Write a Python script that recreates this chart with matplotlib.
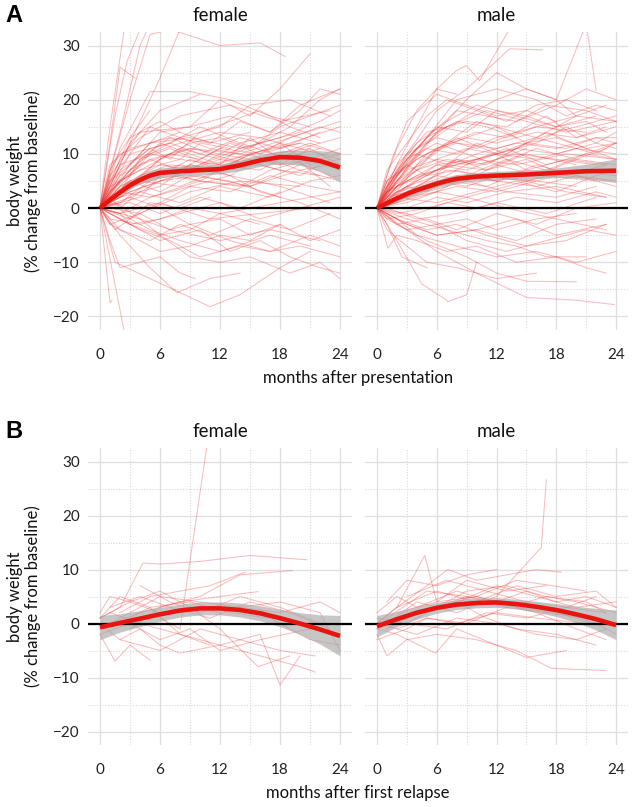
import matplotlib
matplotlib.use("Agg")
import matplotlib.pyplot as plt
import numpy as np

plt.rcParams['font.family'] = ['Lato', 'DejaVu Sans']

# ---------------- data ----------------
facets = ["female", "male"]
x_ticks = [0, 6, 12, 18, 24]
y_ticks = [-20, -10, 0, 10, 20, 30]
x_titles = ["months after presentation", "months after first relapse"]
panel_letters = ["A", "B"]

# Panel A, female: individual trajectories (months, % change)
a_female_t = [
    [0, 1, 2.5], [0, 1.5, 2.7, 4], [0, 1, 2, 3.5], [0, 2, 4, 5],
    [0, 3, 5, 7, 12, 16, 18.5], [0, 3, 6, 8, 12], [0, 2, 5, 9, 13, 17, 21],
    [0, 3, 6, 9, 12, 15, 18, 21], [0, 2, 5, 8, 11, 14, 17, 20, 22, 24],
    [0, 3, 6, 9, 12, 15, 18, 21, 24], [0, 1, 4, 7, 10, 13, 16, 19, 22, 24],
    [0, 2, 5, 8, 12, 16, 20, 24], [0, 3, 6, 9, 12, 15, 18, 22],
    [0, 1.5, 4, 7, 11, 14, 18, 21, 24], [0, 2, 6, 10, 14, 18, 22],
    [0, 3, 5, 8, 12, 15, 19, 23], [0, 2, 4, 9, 13, 17, 20, 24],
    [0, 1, 3, 6, 10, 15, 20, 24], [0, 2, 5, 9, 13, 17, 21, 24],
    [0, 3, 6, 10, 14, 18], [0, 1, 4, 8, 12, 16, 20, 24],
    [0, 2, 5, 8, 11, 15, 19, 23], [0, 1, 3, 6, 9, 12, 15, 18],
    [0, 2, 4, 7, 10, 14, 17, 21, 24], [0, 1, 2, 4, 6, 8, 9.5],
    [0, 1.5, 5, 11, 14, 18, 21], [0, 2, 5, 7.7, 11, 14], [0, 1, 1.2], [0, 2.5],
    [0, 1, 3, 6, 9, 12, 15, 19, 22, 24], [0, 3, 6, 9, 12, 15, 18, 21, 24],
    [0, 2, 4, 6, 9, 12, 14, 18, 22], [0, 1, 3, 5, 8, 11, 14, 17, 20, 23],
    [0, 2, 6, 9, 13, 17, 21, 24], [0, 1, 4, 8, 12, 16, 20, 24],
    [0, 3, 7, 10, 14, 19, 23], [0, 2, 5, 7, 10, 13, 16, 19, 22],
    [0, 1, 3, 6, 9, 13, 18], [0, 2, 4, 8, 12, 17, 21, 24],
    [0, 3, 6, 9, 13, 16, 20, 24], [0, 1.5, 4, 6, 9, 12, 16],
    [0, 2, 5, 8, 12, 16, 19, 22, 24], [0, 1, 2, 5, 9, 14, 20],
    [0, 2, 4, 7, 11, 15, 19, 23], [0, 1, 3, 7, 10, 14, 17, 21, 24],
    [0, 3, 6, 10, 13, 16, 19, 22, 24], [0, 2, 5, 9, 12, 15],
    [0, 1, 4, 8, 13, 18, 23], [0, 2, 6, 10, 15, 19, 24], [0, 1, 3, 6, 10],
    [0, 1.5, 3, 5, 8, 11], [0, 2, 4, 7, 9, 13, 17, 20, 24],
    [0, 1, 3, 5, 8, 10, 13], [0, 2, 4, 6, 9, 12, 15, 18, 21, 24],
    [0, 1, 2, 4, 7, 11, 15, 20], [0, 2, 5, 9, 14, 19, 24],
    [0, 1, 3, 6, 9, 12, 16, 20, 23], [0, 2, 4, 8, 12, 15, 18, 21],
    [0, 1, 3, 5, 7, 10, 14, 18, 22], [0, 3, 6, 9, 12, 15, 18, 21, 24],
    [0, 1.5, 3, 6, 8], [0, 2, 6, 11, 16, 21], [0, 1, 4, 7, 12, 17, 22],
    [0, 2, 5, 10, 15, 20, 24], [0, 1, 3, 7, 11, 15],
    [0, 2, 4, 6, 10, 14, 18, 22, 24], [0, 1, 2, 3, 5], [0, 3, 8, 13, 18, 23],
    [0, 1, 3, 5, 8, 12, 17, 21], [0, 2, 5, 8, 12, 16, 20, 24],
    [0, 1, 4, 9, 14, 20], [0, 2, 3, 6, 9, 12, 18, 24],
]
a_female_v = [
    [0, 15, 34], [0, 17, 27, 33], [0, 12, 26, 24], [0, 14, 30, 34],
    [0, 20, 32, 33, 30, 30.5, 28], [0, 12, 24, 33, 34], [0, 11, 21.5, 21.5, 20, 17, 15],
    [0, 8, 14, 15, 20, 17, 22, 28.5], [0, 6, 12, 14, 12, 16, 14, 18, 22, 21],
    [0, 4, 9, 12, 13, 11, 15, 17, 19], [0, 3, 8, 10, 9, 12, 10, 13, 15, 14],
    [0, 5, 9, 7, 11, 10, 12, 10], [0, 7, 12, 10, 8, 13, 9, 11],
    [0, 2, 6, 8, 7, 9, 12, 8, 9], [0, 4, 7, 5, 9, 7, 6],
    [0, 6, 10, 13, 15, 19, 20, 17], [0, 9, 14, 15, 17, 14, 19, 22],
    [0, 1, 3, 5, 6, 4, 7, 5], [0, -1, 2, 4, 3, 6, 4, 3],
    [0, 1, -1, 2, 0, 3], [0, -2, -3, -1, 1, -2, 0, 2],
    [0, -4, -6, -3, -5, -2, -4, -1], [0, -3, -5, -8, -7, -5, -6, -3],
    [0, -2, -4, -6, -9, -7, -8, -5, -7], [0, -6, -11, -10, -9, -12, -13],
    [0, -10, -13, -18.2, -16, -11, -8], [0, -5, -11, -15.6, -13, -12], [0, -17.5, -17], [0, -23.5],
    [0, -1, -3, -5, -9, -10, -9, -12, -10, -13], [0, 2, 0, -3, -2, -5, -3, -6, -4],
    [0, 3, 6, 9, 11, 10, 12, 14, 12], [0, 5, 10, 15, 13, 11, 10, 9, 7, 8],
    [0, 2, 4, 8, 6, 10, 11, 8], [0, 4, 7, 9, 8, 7, 11, 13],
    [0, 10, 12, 15, 12, 9, 6], [0, 7, 11, 9, 14, 16, 18, 15, 13],
    [0, 2, 5, 3, 6, 5, 2], [0, 0, 3, 1, 4, 2, 5, 6],
    [0, -2, 1, 4, 6, 3, 1, -2], [0, 1, -2, -5, -4, -1, -3],
    [0, 5, 8, 11, 9, 12, 15, 20, 22], [0, 7, 10, 12, 13, 11, 14],
    [0, 3, 9, 13, 10, 8, 10, 4], [0, 2, 4, 6, 5, 4, 7, 9, 11],
    [0, -3, -6, -4, -8, -6, -9, -11, -12], [0, 1, 5, 8, 7, 9],
    [0, 8, 13, 17, 19, 16, 18], [0, 1, 5, 7, 10, 12, 15], [0, 4, 12, 18, 21],
    [0, -4, -2, 1, 0, 2], [0, -1, -2, -4, -3, -6, -8, -7, -9],
    [0, 3, 7, 10, 9, 12, 11], [0, 4, 6, 8, 7, 9, 8, 10, 12, 10],
    [0, 3, 5, 9, 11, 8, 10, 12], [0, 6, 9, 11, 10, 13, 16],
    [0, 1, 4, 6, 9, 7, 8, 6, 9], [0, 2, 5, 4, 7, 10, 8, 11],
    [0, 5, 8, 11, 12, 10, 13, 11, 14], [0, 3, 5, 7, 10, 9, 8, 9, 7],
    [0, 9, 13, 16, 14], [0, -1, 1, -2, -1, 0], [0, -3, -1, -4, -6, -4, -6],
    [0, 3, 2, 5, 4, 8, 10], [0, 6, 11, 13, 12, 14],
    [0, 1, 2, 6, 8, 11, 13, 16, 18], [0, 5, 9, 13, 18], [0, 5, 8, 6, 4, 1],
    [0, 2, -2, -4, -6, -8, -5, -7], [0, 8, 10, 12, 14, 13, 11, 9],
    [0, 0, -1, 3, 5, 4], [0, -1, -3, -2, 0, -1, 1, 3],
]

# Panel A, male
a_male_t = [
    [0, 2, 4, 6, 8, 9, 10.3, 13.3], [0, 3, 6, 9, 13.3, 16.6],
    [0, 2, 5, 9, 12, 15, 18, 21, 22], [0, 3, 6, 9, 12, 15, 18, 20],
    [0, 2, 5, 8, 11, 14, 18, 21, 24], [0, 1, 3, 6, 9, 12, 15, 18, 21, 23],
    [0, 2, 4, 7, 10, 14, 17, 20, 24], [0, 1, 3, 5, 8, 12, 16, 20, 23],
    [0, 2, 5, 8, 12, 16, 19, 22, 24], [0, 3, 6, 10, 13, 17, 21, 24],
    [0, 1, 4, 7, 11, 15, 19, 23], [0, 2, 5, 9, 13, 17, 21, 24],
    [0, 3, 7, 11, 15, 19, 23], [0, 1, 3, 6, 9, 12, 16, 20, 24],
    [0, 2, 4, 8, 12, 16, 20], [0, 3, 6, 9, 13, 18, 22],
    [0, 1, 4, 7, 10, 14, 18, 22, 24], [0, 2, 5, 8, 12, 16, 20, 24],
    [0, 1, 3, 6, 10, 14, 18, 22], [0, 1.1, 2, 4, 7, 10, 14, 18, 21, 23],
    [0, 2, 4.5, 7, 7.1, 9, 10], [0, 3, 6, 10, 15, 20, 23.8],
    [0, 2, 5, 9, 12, 15, 20], [0, 3, 7, 11, 14, 17, 21],
    [0, 1, 3, 5, 8, 12, 16], [0, 1, 2.5, 5],
    [0, 2, 4, 7, 10, 13, 17, 21, 24], [0, 1, 3, 5, 7, 10, 13, 16, 19, 22],
    [0, 2, 4, 6, 9, 12, 15, 18, 22, 24], [0, 1, 3, 6, 10, 14, 18, 22, 24],
    [0, 2, 5, 9, 13, 17, 21, 24], [0, 1, 4, 8, 12, 16, 20, 24],
    [0, 3, 6, 9, 12, 16, 20, 24], [0, 1, 3, 6, 9, 12, 15, 19, 23],
    [0, 2, 6, 10, 14, 18, 22, 24], [0, 1, 4, 8, 12, 17, 22],
    [0, 2, 5, 9, 13, 18, 23], [0, 3, 6, 9, 12, 16, 20, 24],
    [0, 1, 2, 4, 6, 8], [0, 1.5, 3, 6, 9, 12, 15, 18],
    [0, 2, 5, 8, 11, 15, 19, 22, 24], [0, 1, 3, 6, 9, 13, 17, 21, 24],
    [0, 2, 4, 7, 11, 15, 19, 23], [0, 1, 3, 5, 8, 11, 15, 20],
    [0, 2, 4, 7, 10, 14, 18, 22, 24], [0, 3, 6, 10, 14, 18, 23],
    [0, 1, 3, 6, 9, 12, 16, 20, 23], [0, 2, 5, 8, 12, 16, 19, 22, 24],
    [0, 1, 3, 6, 9, 12, 15, 18, 21, 24], [0, 2, 4, 6, 8, 11, 14],
    [0, 1, 2, 4, 7, 10, 14, 18, 22], [0, 2, 5, 8, 12, 16, 20, 24],
    [0, 1, 3, 5, 8, 12, 16, 21], [0, 2, 4, 7, 11, 15, 19, 24],
    [0, 1, 3, 6, 10, 15, 20], [0, 3, 6, 9, 13, 17, 22],
    [0, 1, 2, 5, 8, 11, 15, 19, 23], [0, 2, 4, 8, 12, 16, 20, 24],
    [0, 1, 3, 6, 9, 12, 15], [0, 2, 6, 10, 14, 18, 22, 24],
    [0, 1, 4, 7, 10, 13, 16, 20, 24], [0, 1.5, 3, 5, 7],
    [0, 2, 5, 9, 13, 18, 23], [0, 1, 3, 6, 10, 14, 19, 24],
    [0, 3, 6, 9, 12, 16, 20], [0, 1, 2, 4, 6, 9, 12, 16, 20, 23],
    [0, 2, 4, 7, 10, 14, 18, 22], [0, 1, 3, 5, 8, 12],
]
a_male_v = [
    [0, 8, 15, 22, 25.4, 26.3, 23.5, 33], [0, 10, 18, 22, 29.4, 29.2],
    [0, 5, 12, 17, 20, 22, 20, 34, 21.7], [0, 7, 14, 20, 25, 22, 20, 17],
    [0, 6, 13, 18, 17, 16, 19, 22, 20], [0, 4, 9, 15, 14, 18, 17, 15, 16, 14],
    [0, 3, 8, 12, 16, 14, 17, 13, 15], [0, 2, 6, 10, 12, 11, 13, 17, 19],
    [0, 5, 9, 13, 10, 12, 15, 12, 11], [0, 4, 8, 9, 11, 8, 10, 12],
    [0, 1, 5, 8, 7, 9, 6, 8], [0, 2, 4, 6, 9, 7, 10, 9],
    [0, 3, 5, 4, 7, 6, 5], [0, 2, 3, 5, 4, 6, 5, 7, 6],
    [0, 1, 2, 4, 3, 5, 4], [0, 0, 2, 1, 3, 2, 4],
    [0, -2, -1, 1, 0, 2, 1, 3, 2], [0, -3, -2, -4, -1, -3, 0, 1],
    [0, -1, -3, -5, -4, -6, -3, -2], [0, -7.4, -5, -6, -8, -7, -10, -9, -11, -12],
    [0, -6, -14, -17, -17.3, -16, -10], [0, -4, -8, -12, -16.5, -17, -17.8],
    [0, -3, -6, -9, -12, -13.5, -13.6], [0, -2, -4, -6, -7, -9, -9],
    [0, -4, -7, -10, -11, -13, -12], [0, -3, -9, -11],
    [0, 6, 10, 8, 12, 10, 14, 11, 9], [0, 7, 12, 17, 20, 18, 16, 19, 20, 18],
    [0, 4, 7, 11, 13, 15, 12, 14, 16, 17], [0, 5, 10, 13, 11, 14, 12, 10, 12],
    [0, 8, 14, 16, 15, 19, 18, 16], [0, 3, 6, 8, 10, 9, 11, 10],
    [0, 1, 3, 6, 5, 8, 6, 4], [0, 3, 7, 9, 8, 10, 7, 9, 8],
    [0, 2, 1, 3, 5, 3, 6, 7], [0, 0, -2, -1, 1, -1, 2],
    [0, -1, 0, 2, 0, -2, -4], [0, 4, 6, 5, 8, 6, 9, 8],
    [0, 6, 11, 18, 22, 21], [0, 9, 16, 21, 19, 17, 18, 16],
    [0, 2, 5, 9, 8, 12, 11, 13, 13], [0, -2, -4, -3, -6, -8, -6, -4, -5],
    [0, 3, 4, 7, 6, 5, 3, 2], [0, 5, 8, 6, 9, 7, 10, 8],
    [0, 1, 4, 6, 9, 11, 10, 12, 14], [0, -3, -5, -4, -2, -5, -3],
    [0, 4, 9, 12, 10, 8, 11, 9, 11], [0, 7, 13, 20, 22, 20, 17, 19, 18],
    [0, 3, 6, 9, 11, 10, 12, 13, 11, 12], [0, 5, 10, 14, 16, 15, 13],
    [0, 2, 4, 7, 9, 8, 10, 9, 8], [0, 3, 6, 7, 5, 4, 6, 5],
    [0, 4, 8, 11, 10, 13, 15, 14], [0, 6, 11, 15, 18, 16, 14, 16],
    [0, 1, 2, 4, 6, 5, 7], [0, 2, 3, 2, 4, 6, 5],
    [0, -1, -2, -4, -3, -5, -7, -6, -3], [0, -2, -5, -7, -9, -8, -10, -8],
    [0, 3, 5, 8, 7, 9, 11], [0, 4, 7, 10, 12, 11, 13, 12],
    [0, 5, 9, 12, 14, 13, 15, 17, 16], [0, 4, 9, 13, 15],
    [0, 1, 3, 5, 3, 4, 2], [0, 2, 5, 7, 9, 8, 10, 9],
    [0, -1, -3, -2, -4, -2, -1], [0, 3, 6, 9, 11, 13, 12, 14, 13, 15],
    [0, 7, 12, 16, 19, 17, 15, 17], [0, 2, 4, 3, 6, 5],
]

# Panel B, female
b_female_t = [
    [0, 2, 4.3, 6, 10, 15, 20.7], [6, 8, 10.7], [3, 6, 10, 14, 19.2],
    [2, 5, 8, 11, 14.5], [1, 4, 8, 12, 15.8], [0, 1.5, 3, 5],
    [0, 2, 4, 6, 8, 12, 16, 18, 20], [1, 4, 8, 12, 16, 20, 21.5],
    [0, 3, 6, 9, 12, 15.8, 19], [2, 5, 9, 13, 17, 21, 24],
    [0, 3, 6, 10, 14, 18, 22, 24], [1, 4, 7, 11, 15, 19, 23],
    [0, 2, 5, 8, 11], [4, 7, 10, 14, 18, 22], [0, 3, 6, 9, 12, 16, 21],
    [2, 6, 10, 14, 18, 21.5], [0, 1, 3, 6, 9, 12], [14, 18, 22, 24],
]
b_female_v = [
    [1, 3, 11.2, 11, 11.5, 12.6, 11.8], [1, -1, 33], [-1, 3, 5, 9, 9.8],
    [2, 5, 6, 7, 9.5], [0, 2, 4, 5, 5.9], [-2, -7, -4, -6.8],
    [0, -3, -1, -4, -5.5, -4, -2, -11.4, -6], [2, 0, -2, -4, -6, -8, -9],
    [1, 4, 2, 3, -1, -8, -6], [0, 3, 4, 2, 1, -3, -4],
    [-1, 2, 5, 4, 3, 4, 2, -5], [3, 5, 3, 1, 4, 2, -1],
    [1, 5, 3, -2, -4], [7, 4, 2, 5, 3, 0], [-2, 0, -3, -1, -5, -3, -1],
    [-3, -5, -1, -3, -5, -6], [2, 5, 4, 6, 3, 2], [3, 2, 4, 2],
]

# Panel B, male
b_male_t = [
    [0, 2, 4.8, 6, 9, 13, 17], [2, 5, 7.1, 10, 13, 16, 18.5], [1, 4, 8, 12, 16.5, 17],
    [3, 6, 10, 14, 17.6, 21], [0, 3, 6, 9, 12, 15, 18, 21, 24], [1, 5, 9, 13, 17, 21, 23],
    [0, 2, 5.9, 8, 12, 15, 19], [0, 1, 3, 6, 10, 14, 17.5, 20, 23],
    [2, 6, 10, 14, 18, 22, 24], [0, 3, 7, 11, 15, 19, 23], [1, 4, 8, 12, 16, 20, 24],
    [0, 2, 4, 8, 12, 16, 20, 23], [3, 7, 11, 15, 19, 22], [0, 4, 8, 12, 16, 20, 23],
    [2, 5, 9, 13, 17, 21], [0, 2, 6, 10, 14, 18, 22, 24], [5, 8, 11, 14, 18, 22],
    [1, 3, 6, 9, 12], [0, 3, 5, 8, 12, 16, 21], [6, 9, 13, 17, 20, 24],
]
b_male_v = [
    [0, 3, 12.6, 4, 8, 6, 7], [3, 7, 10, 8, 9, 10, 9.5], [0, 4, 2, 5, 14.1, 26.6],
    [0, 3, 5, 8, 7, 6], [-1, 1, 3, 5, 4, 6, 4, 5, 3], [1, 6, 5, 3, 5, 4, 2],
    [-1, -2, -5.5, -1, -4, -6.3, -5], [-2, -6, -3, -2, -3, -5, -8.3, -8.5, -8.7],
    [2, 4, 5, 3, 2, 0, -2], [1, 0, -1, 2, 1, 3, 2], [-1, 2, 4, 7, 5, 3, 4],
    [2, 5, 3, 6, 4, 2, -1, -3], [5, 8, 6, 4, 3, 5], [0, -2, 1, 0, -2, -3, -1],
    [-1, 1, 0, 3, 2, 1], [0, 3, 6, 4, 7, 5, 6, 3], [2, 4, 1, -1, -2, -4],
    [4, 8, 7, 9, 10], [-3, -1, 1, 0, 2, 1, 0], [3, 6, 7, 5, 4, 2],
]

# Smoothed mean curves with confidence band (months, mean, lower, upper)
a_female_s_t = [0, 1, 2, 3, 4, 5, 6, 8, 10, 12, 14, 16, 18, 20, 22, 24]
a_female_s_m = [0, 1.5, 2.9, 4.2, 5.2, 6.0, 6.5, 6.8, 7.0, 7.2, 7.9, 8.8, 9.4, 9.3, 8.7, 7.5]
a_female_s_lo = [-0.6, 0.9, 2.3, 3.5, 4.4, 5.1, 5.6, 5.9, 6.1, 6.3, 6.9, 7.7, 8.2, 7.9, 6.8, 4.8]
a_female_s_hi = [0.6, 2.1, 3.5, 4.9, 6.0, 6.9, 7.4, 7.7, 7.9, 8.1, 8.9, 9.9, 10.6, 10.7, 10.6, 10.3]

a_male_s_t = [0, 1, 2, 3, 4, 5, 6, 7, 8, 9, 10, 12, 15, 18, 21, 24]
a_male_s_m = [0, 0.9, 1.8, 2.6, 3.3, 3.9, 4.5, 5.0, 5.4, 5.6, 5.8, 6.0, 6.2, 6.5, 6.8, 6.9]
a_male_s_lo = [-0.5, 0.4, 1.2, 2.0, 2.6, 3.2, 3.8, 4.2, 4.6, 4.8, 5.0, 5.2, 5.4, 5.6, 5.5, 4.7]
a_male_s_hi = [0.5, 1.4, 2.4, 3.2, 4.0, 4.6, 5.2, 5.8, 6.2, 6.4, 6.6, 6.8, 7.0, 7.4, 8.1, 9.1]

b_female_s_t = [0, 2, 4, 6, 8, 10, 12, 14, 16, 18, 20, 22, 24]
b_female_s_m = [-0.7, 0.1, 0.9, 1.7, 2.4, 2.8, 2.8, 2.5, 1.9, 1.0, 0.0, -1.1, -2.3]
b_female_s_lo = [-3.0, -1.6, -0.6, 0.4, 1.2, 1.6, 1.6, 1.2, 0.5, -0.6, -2.0, -3.8, -6.0]
b_female_s_hi = [1.5, 1.8, 2.4, 3.0, 3.6, 4.0, 4.0, 3.8, 3.3, 2.6, 2.0, 1.6, 1.5]

b_male_s_t = [0, 2, 4, 6, 8, 10, 12, 14, 16, 18, 20, 22, 24]
b_male_s_m = [-0.5, 0.8, 2.0, 2.9, 3.5, 3.8, 3.9, 3.6, 3.1, 2.5, 1.7, 0.8, -0.3]
b_male_s_lo = [-2.5, -0.6, 0.8, 1.9, 2.6, 2.9, 3.0, 2.7, 2.1, 1.3, 0.2, -1.2, -3.0]
b_male_s_hi = [1.5, 2.2, 3.2, 3.9, 4.4, 4.7, 4.8, 4.5, 4.1, 3.7, 3.2, 2.8, 2.5]

panels = [
    [(a_female_t, a_female_v, a_female_s_t, a_female_s_m, a_female_s_lo, a_female_s_hi),
     (a_male_t, a_male_v, a_male_s_t, a_male_s_m, a_male_s_lo, a_male_s_hi)],
    [(b_female_t, b_female_v, b_female_s_t, b_female_s_m, b_female_s_lo, b_female_s_hi),
     (b_male_t, b_male_v, b_male_s_t, b_male_s_m, b_male_s_lo, b_male_s_hi)],
]

# ---------------- figure ----------------
W, H = 633, 807
fig = plt.figure(figsize=(W / 100, H / 100), dpi=100)
fig.patch.set_facecolor("white")

def frac(x0, y0, x1, y1):
    return [x0 / W, 1 - y1 / H, (x1 - x0) / W, (y1 - y0) / H]

rows_px = [(32, 330), (448, 745)]
cols_px = [(88, 352), (365, 628)]
grid_col = "#dedede"
tick_col = "#222222"

for r, (y0, y1) in enumerate(rows_px):
    for c, (x0, x1) in enumerate(cols_px):
        ax = fig.add_axes(frac(x0, y0, x1, y1))
        t_list, v_list, st, sm, slo, shi = panels[r][c]
        ax.set_xlim(-1.2, 25.2)
        ax.set_ylim(-22.5, 32.5)
        for s in ax.spines.values():
            s.set_visible(False)
        ax.set_xticks(x_ticks)
        ax.set_yticks(y_ticks)
        ax.set_xticks([3, 9, 15, 21], minor=True)
        ax.set_yticks([-15, -5, 5, 15, 25], minor=True)
        ax.grid(which="major", color=grid_col, lw=0.9, zorder=0)
        ax.grid(which="minor", color="#d8d8d8", lw=0.8, ls=(0, (1, 1.5)), zorder=0)
        ax.set_axisbelow(True)
        ax.tick_params(which="both", length=0, labelsize=11, colors=tick_col)
        ax.tick_params(axis="x", pad=13)
        ax.tick_params(axis="y", pad=6)
        if c == 1:
            ax.tick_params(axis="y", labelleft=False)
        for t, v in zip(t_list, v_list):
            ax.plot(t, v, color="#f03030", lw=0.75, alpha=0.32, zorder=2,
                    solid_joinstyle="round")
        ax.fill_between(st, slo, shi, color="#a8a8a8", alpha=0.65, lw=0, zorder=3)
        ax.axhline(0, color="black", lw=1.6, zorder=4)
        ax.plot(st, sm, color="#e8140f", lw=3.3, zorder=5, solid_capstyle="butt")
        ax.set_title(facets[c], fontsize=13.5, color="#111111", pad=8)

    yc = (y0 + y1) / 2
    fig.text(24 / W, 1 - yc / H, "body weight\n(% change from baseline)",
             rotation=90, ha="center", va="center", fontsize=12, color="#111111",
             linespacing=1.15)
    fig.text(358 / W, 1 - (y1 + 48) / H, x_titles[r], ha="center", va="center",
             fontsize=12, color="#111111")
    fig.text(5 / W, 1 - (y0 - 16) / H, panel_letters[r], ha="left", va="center",
             fontsize=17, fontweight="bold", family=["Liberation Sans", "DejaVu Sans"])

fig.savefig("out.png", dpi=100)
